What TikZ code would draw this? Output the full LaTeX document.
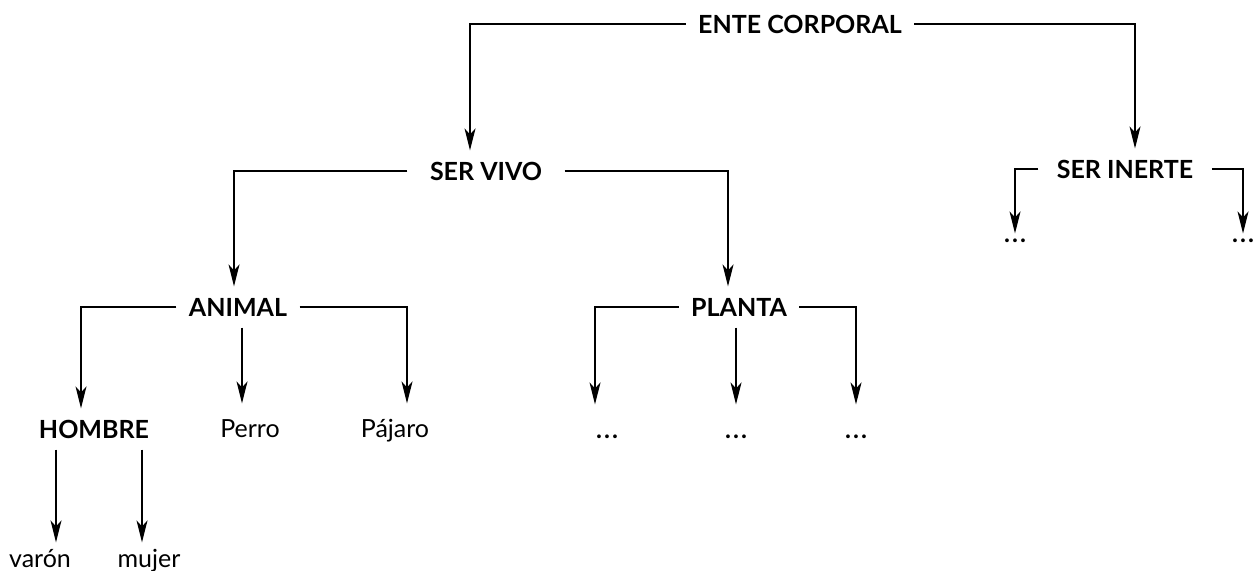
\documentclass[tikz,border=0pt]{standalone}
\usepackage{fontspec}
\setmainfont{Lato}
\usetikzlibrary{arrows.meta}

\begin{document}
\begin{tikzpicture}[x=0.5pt,y=-0.5pt,line width=0.6pt,
	font=\fontsize{12.5}{15}\selectfont,
	>={Stealth[length=11pt,width=5.5pt,inset=3pt]},
	head/.style={font=\fontsize{12.5}{15}\selectfont\bfseries,text height=9pt,text depth=0pt,inner xsep=6pt,inner ysep=5.5pt},
	leaf/.style={anchor=base,text height=9pt,text depth=0pt,inner ysep=7.5pt}]
	\useasboundingbox (0,0) rectangle (1256,570);
	\node[head] (ente) at (800,24) {ENTE CORPORAL};
	\node[head,inner xsep=11pt] (servivo) at (486,171) {SER VIVO};
	\node[head,inner xsep=9pt] (serinerte) at (1125,169) {SER INERTE};
	\node[head] (animal) at (238,307) {ANIMAL};
	\node[head] (planta) at (739,307) {PLANTA};
	\node[head] (hombre) at (94,429) {HOMBRE};
	\node[leaf] (perro) at (250,437) {Perro};
	\node[leaf] (pajaro) at (395,437) {Pájaro};
	\node[leaf] (p1) at (607,438) {\textbf{.\kern1pt.\kern1pt.}};
	\node[leaf] (p2) at (736,438) {\textbf{.\kern1pt.\kern1pt.}};
	\node[leaf] (p3) at (856,438) {\textbf{.\kern1pt.\kern1pt.}};
	\node[leaf,inner ysep=3pt] (varon) at (40,567) {varón};
	\node[leaf,inner ysep=3pt] (mujer) at (149,567) {mujer};
	\node[leaf,text height=4pt,inner ysep=0pt] (i1) at (1015,242) {\textbf{.\kern1pt.\kern1pt.}};
	\node[leaf,text height=4pt,inner ysep=0pt] (i2) at (1243,242) {\textbf{.\kern1pt.\kern1pt.}};
	\draw[->] (ente.west) -| ([xshift=-8pt]servivo.north);
	\draw[->] (ente.east) -| ([xshift=5pt]serinerte.north);
	\draw[->] (servivo.west) -| ([xshift=-2pt]animal.north);
	\draw[->] (servivo.east) -| ([xshift=-5.5pt]planta.north);
	\draw[->] (serinerte.west) -| (i1.north);
	\draw[->] (serinerte.east) -| (i2.north);
	\draw[->] (animal.west) -| ([xshift=-6.5pt]hombre.north);
	\draw[->] ([xshift=2pt]animal.south) -- ([xshift=-4pt]perro.north);
	\draw[->] (animal.east) -| ([xshift=6pt]pajaro.north);
	\draw[->] (planta.west) -| ([xshift=-6pt]p1.north);
	\draw[->] (p2.north |- planta.south) -- (p2.north);
	\draw[->] (planta.east) -| (p3.north);
	\draw[->] ([xshift=-19pt]hombre.south) -- ([xshift=8pt]varon.north);
	\draw[->] ([xshift=24pt]hombre.south) -- ([xshift=-3.5pt]mujer.north);
\end{tikzpicture}
\end{document}
